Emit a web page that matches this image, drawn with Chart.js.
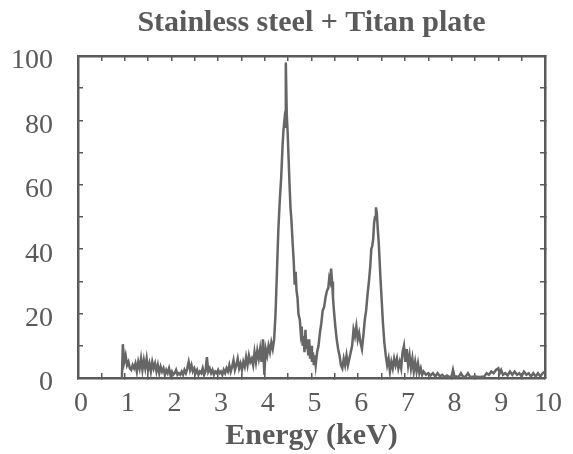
<!DOCTYPE html>
<html lang="en">
<head>
    <meta charset="UTF-8">
    <script src="https://cdn.jsdelivr.net/npm/chart.js"></script>
    <title>Stainless steel + Titan plate</title>
    <style>
        body {
            margin: 0;
            background: #fff;
        }
        #wrap {
            width: 573px;
            height: 454px;
        }
    </style>
</head>
<body>
    <div id="wrap">
        <canvas id="spectrum" width="573" height="454"></canvas>
    </div>

    <script>
        // Energy (keV) of each sample
        const energy = [
            0.94, 0.96, 0.99, 1.02, 1.05, 1.08, 1.11, 1.14, 1.17, 1.20, 1.23, 1.26, 1.29, 1.32, 1.35, 1.38,
            1.41, 1.44, 1.47, 1.50, 1.53, 1.56, 1.59, 1.62, 1.65, 1.68, 1.71, 1.74, 1.77, 1.80, 1.83, 1.86,
            1.89, 1.92, 1.95, 1.98, 2.01, 2.04, 2.07, 2.10, 2.13, 2.16, 2.19, 2.22, 2.25, 2.28, 2.31, 2.34,
            2.37, 2.40, 2.43, 2.46, 2.49, 2.52, 2.55, 2.58, 2.61, 2.64, 2.67, 2.70, 2.73, 2.76, 2.79, 2.82,
            2.85, 2.88, 2.91, 2.94, 2.97, 3.00, 3.03, 3.06, 3.09, 3.12, 3.15, 3.18, 3.21, 3.24, 3.27, 3.30,
            3.33, 3.36, 3.39, 3.42, 3.45, 3.48, 3.51, 3.54, 3.57, 3.60, 3.63, 3.66, 3.69, 3.72, 3.75, 3.78,
            3.81, 3.84, 3.87, 3.90, 3.93, 3.96, 3.99, 4.02, 4.05, 4.08, 4.11, 4.14, 4.17, 4.20, 4.23, 4.26,
            4.29, 4.32, 4.35, 4.38, 4.40, 4.42, 4.44, 4.45, 4.47, 4.49, 4.51, 4.53, 4.55, 4.57, 4.60, 4.62,
            4.64, 4.66, 4.68, 4.70, 4.72, 4.75, 4.77, 4.79, 4.81, 4.83, 4.85, 4.87, 4.89, 4.91, 4.93, 4.95,
            4.97, 4.99, 5.01, 5.03, 5.05, 5.07, 5.09, 5.12, 5.15, 5.18, 5.21, 5.24, 5.27, 5.30, 5.33, 5.36,
            5.38, 5.40, 5.42, 5.44, 5.46, 5.48, 5.51, 5.54, 5.57, 5.60, 5.63, 5.66, 5.69, 5.72, 5.75, 5.78,
            5.81, 5.84, 5.87, 5.90, 5.93, 5.96, 5.99, 6.02, 6.05, 6.08, 6.11, 6.14, 6.17, 6.20, 6.23, 6.26,
            6.28, 6.30, 6.32, 6.34, 6.36, 6.38, 6.40, 6.42, 6.44, 6.46, 6.48, 6.50, 6.53, 6.56, 6.59, 6.62,
            6.65, 6.68, 6.71, 6.74, 6.77, 6.80, 6.83, 6.86, 6.89, 6.92, 6.95, 6.98, 7.01, 7.04, 7.07, 7.10,
            7.13, 7.16, 7.19, 7.22, 7.25, 7.28, 7.31, 7.34, 7.37, 7.40, 7.45, 7.50, 7.55, 7.60, 7.65, 7.70,
            7.75, 7.80, 7.85, 7.90, 7.95, 8.00, 8.03, 8.06, 8.10, 8.15, 8.20, 8.25, 8.30, 8.35, 8.40, 8.50,
            8.60, 8.70, 8.75, 8.80, 8.85, 8.90, 8.95, 9.00, 9.03, 9.06, 9.10, 9.15, 9.20, 9.25, 9.30, 9.35,
            9.40, 9.45, 9.50, 9.55, 9.60, 9.65, 9.70, 9.75, 9.80, 9.85, 9.90, 9.95, 10.00
        ];

        // Counts (relative intensity) at each energy
        const counts = [
            0, 10.5, 5, 7, 4, 5, 3, 2.5, 4, 3, 4.5, 2, 5, 3, 6, 2.5,
            5.5, 3, 6, 2.5, 4.5, 2, 5, 3, 4.5, 2, 4, 1.5, 3.5, 2, 3, 1,
            2.5, 1.5, 3, 1, 2, 1, 1.5, 2.5, 1, 1.5, 1, 2, 1, 2.5, 1.5, 3,
            5, 2.5, 4, 2, 3, 1.5, 2.5, 1, 2, 1.5, 3, 1, 2, 6.5, 2, 3,
            1.5, 2.5, 1, 2, 1.5, 2.5, 1.5, 2, 1, 2.5, 1.5, 3, 2, 4, 2, 3.5,
            5.5, 2.5, 4, 6, 3, 4.5, 2.5, 5, 3.5, 6.5, 4, 7, 5, 6, 4, 8,
            5, 8.5, 6, 9, 5, 12, 1, 9, 7, 10, 8, 11, 9, 12, 20, 33,
            46, 55, 62, 72, 77, 80, 78, 98, 82, 76, 68, 60, 53, 49, 41, 36,
            29, 33, 27, 25, 20, 18, 14, 16, 10, 13, 8, 15, 9, 12, 7, 12,
            6, 10, 5, 8, 4, 7, 4, 8, 10, 14, 17, 21, 22, 25, 27, 28,
            31, 30, 34, 30, 25, 21, 16, 12, 9, 7, 4, 3, 6, 4, 7, 4,
            6, 8, 10, 15, 13, 16, 12, 14, 11, 9, 13, 18, 21, 26, 30, 35,
            40, 41, 43, 48, 50, 53, 51, 46, 42, 36, 30, 25, 17, 11, 7, 4,
            6, 2, 5, 3, 6, 4, 6, 3, 5, 3, 8, 10, 5, 9, 4, 7,
            3, 6, 2, 5, 2, 4.5, 1.5, 3, 1, 2, 1, 1.5, 0.8, 1.5, 0.5, 1.5,
            0.5, 1, 0.3, 0.8, 0.3, 0.5, 2.5, 0.5, 0.5, 0.3, 1.5, 0.3, 0.5, 1.5, 0.3, 0.5,
            0.3, 0.5, 1.5, 1, 2, 1.5, 2.5, 3, 1.5, 2.5, 1, 1.5, 0.8, 2, 1, 2,
            1, 1.5, 0.5, 2, 1, 1.5, 0.5, 1.5, 0.5, 1.5, 0.5, 1.5, 2
        ];

        const xTicks = [0, 1, 2, 3, 4, 5, 6, 7, 8, 9, 10];
        const yTicks = [0, 20, 40, 60, 80, 100];

        const ink = '#5a5a5a';
        const serif = "'Liberation Serif', 'Times New Roman', serif";

        const points = energy.map((e, i) => ({ x: e, y: counts[i] }));

        // tick marks pointing into the plot, like the original frame
        function frameGrid() {
            return {
                display: true,
                drawOnChartArea: false,
                drawTicks: true,
                tickLength: -5,
                color: ink,
                lineWidth: 1.5
            };
        }

        function frameBorder() {
            return { display: true, color: ink, width: 2.5 };
        }

        new Chart(document.getElementById('spectrum'), {
            type: 'line',
            data: {
                datasets: [{
                    label: 'Stainless steel + Titan plate',
                    data: points,
                    borderColor: '#666',
                    borderWidth: 2.5,
                    pointRadius: 0,
                    tension: 0,
                    fill: false
                }]
            },
            options: {
                responsive: false,
                animation: false,
                layout: {
                    padding: { left: 0, right: 23, top: 0, bottom: 0 }
                },
                plugins: {
                    legend: { display: false },
                    tooltip: { enabled: false },
                    title: {
                        display: true,
                        fullSize: false,
                        text: 'Stainless steel + Titan plate',
                        color: ink,
                        font: { family: serif, size: 30, weight: 'bold', lineHeight: 1.2 },
                        padding: { top: 5, bottom: 15 }
                    }
                },
                scales: {
                    x: {
                        type: 'linear',
                        position: 'bottom',
                        min: 0,
                        max: 10,
                        grid: frameGrid(),
                        border: frameBorder(),
                        ticks: {
                            stepSize: 0.5,
                            autoSkip: false,
                            maxRotation: 0,
                            color: ink,
                            padding: 14,
                            labelOffset: 3,
                            font: { family: serif, size: 28 },
                            callback: v => xTicks.includes(v) ? String(v) : ''
                        },
                        title: {
                            display: true,
                            text: 'Energy (keV)',
                            color: ink,
                            font: { family: serif, size: 30, weight: 'bold', lineHeight: 1.2 },
                            padding: 0
                        },
                        afterFit: scale => { scale.height = 76; }
                    },
                    x2: {
                        type: 'linear',
                        position: 'top',
                        min: 0,
                        max: 10,
                        grid: frameGrid(),
                        border: frameBorder(),
                        ticks: { stepSize: 0.5, autoSkip: false, display: false },
                        afterFit: scale => { scale.height = 0; }
                    },
                    y: {
                        type: 'linear',
                        position: 'left',
                        min: 0,
                        max: 100,
                        grid: frameGrid(),
                        border: frameBorder(),
                        ticks: {
                            stepSize: 10,
                            autoSkip: false,
                            color: ink,
                            padding: 30,
                            labelOffset: 5,
                            font: { family: serif, size: 28 },
                            callback: v => yTicks.includes(v) ? String(v) : ''
                        },
                        afterFit: scale => { scale.width = 78; }
                    },
                    y2: {
                        type: 'linear',
                        position: 'right',
                        min: 0,
                        max: 100,
                        grid: frameGrid(),
                        border: frameBorder(),
                        ticks: { stepSize: 10, autoSkip: false, display: false },
                        afterFit: scale => { scale.width = 0; }
                    }
                }
            }
        });
    </script>
</body>
</html>
